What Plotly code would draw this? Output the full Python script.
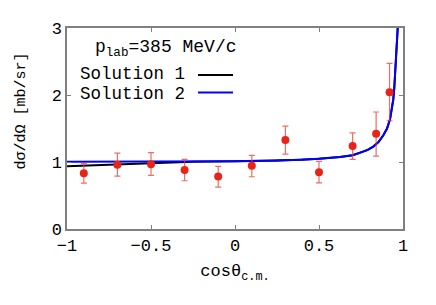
import plotly.graph_objects as go

# Data points (cos theta, dsigma/dOmega, error up, error down)
cos_data = [-0.90, -0.70, -0.50, -0.30, -0.10, 0.10, 0.30, 0.50, 0.70, 0.84, 0.92]
xs_data = [0.833, 0.958, 0.967, 0.880, 0.785, 0.944, 1.330, 0.847, 1.237, 1.420, 2.040]
err_up = [0.144, 0.173, 0.173, 0.160, 0.149, 0.156, 0.205, 0.163, 0.197, 0.326, 0.433]
err_dn = [0.149, 0.169, 0.167, 0.160, 0.159, 0.164, 0.213, 0.159, 0.198, 0.332, 0.424]

# Solution 2 (blue) curve
cos_sol2 = [-1.0, -0.75, -0.5, -0.25, 0.0, 0.25, 0.4, 0.5, 0.625, 0.70, 0.744, 0.79, 0.823, 0.855, 0.883, 0.905, 0.923, 0.935, 0.942, 0.948, 0.952, 0.957, 0.9625, 0.966, 0.969]
xs_sol2 = [1.005, 1.005, 1.005, 1.007, 1.010, 1.020, 1.035, 1.050, 1.074, 1.10, 1.136, 1.18, 1.23, 1.30, 1.40, 1.50, 1.64, 1.79, 1.93, 2.10, 2.27, 2.43, 2.60, 2.80, 3.02]

# Solution 1 (black) curve
cos_sol1 = [-1.0, -0.85, -0.75, -0.6, -0.5, -0.4, -0.25, 0.0, 0.25, 0.4, 0.5, 0.625, 0.70, 0.744, 0.79, 0.823, 0.855, 0.883, 0.905, 0.923, 0.935, 0.942, 0.948, 0.952, 0.957, 0.9625, 0.966, 0.969]
xs_sol1 = [0.935, 0.950, 0.962, 0.978, 0.988, 0.996, 1.003, 1.010, 1.020, 1.035, 1.050, 1.074, 1.10, 1.136, 1.18, 1.23, 1.30, 1.40, 1.50, 1.64, 1.79, 1.93, 2.10, 2.27, 2.43, 2.60, 2.80, 3.02]

x_ticks = [-1, -0.5, 0, 0.5, 1]
x_ticktext = ["\u22121", "\u22120.5", "0", "0.5", "1"]
y_ticks = [0, 1, 2, 3]

FONT = "Liberation Mono, Courier New, monospace"
OFF = 8  # page body margin
W, H = 436 - OFF, 305 - OFF
PL, PR, PT, PB = 67, 403, 22, 229  # plot area in page pixels
L, T = PL - OFF, PT - OFF
R = W - (PR - OFF)
B = H - (PB - OFF)

def px(xp):
    return (xp - PL) / (PR - PL)

def py(yp):
    return (PB - yp) / (PB - PT)

fig = go.Figure()
fig.add_trace(go.Scatter(x=cos_sol1, y=xs_sol1, mode="lines",
                         line=dict(color="black", width=2), showlegend=False))
fig.add_trace(go.Scatter(x=cos_sol2, y=xs_sol2, mode="lines",
                         line=dict(color="#0000ff", width=2), showlegend=False))
fig.add_trace(go.Scatter(x=cos_data, y=xs_data, mode="markers",
                         marker=dict(color="#e8231a", size=8),
                         error_y=dict(type="data", symmetric=False, array=err_up,
                                      arrayminus=err_dn, color="rgba(232,60,50,0.75)",
                                      thickness=1.2, width=3),
                         showlegend=False))

# title-like label and legend drawn as annotations/shapes
fig.add_annotation(xref="paper", yref="paper", x=px(239), y=py(43),
                   xanchor="right", yanchor="middle", showarrow=False,
                   text="p<sub>lab</sub>=385 MeV/c", font=dict(family=FONT, size=18, color="black"))
fig.add_annotation(xref="paper", yref="paper", x=px(187), y=py(69.5),
                   xanchor="right", yanchor="middle", showarrow=False,
                   text="Solution 1", font=dict(family=FONT, size=17.5, color="black"))
fig.add_annotation(xref="paper", yref="paper", x=px(187), y=py(89.5),
                   xanchor="right", yanchor="middle", showarrow=False,
                   text="Solution 2", font=dict(family=FONT, size=17.5, color="black"))
fig.add_shape(type="line", xref="paper", yref="paper", x0=px(198), x1=px(233),
              y0=py(70.5), y1=py(70.5), line=dict(color="black", width=2))
fig.add_shape(type="line", xref="paper", yref="paper", x0=px(198), x1=px(233),
              y0=py(88.5), y1=py(88.5), line=dict(color="#0000ff", width=2))

# y title as annotation
fig.add_annotation(xref="paper", yref="paper", x=px(22), y=py(108),
                   xanchor="center", yanchor="middle", showarrow=False, textangle=-90,
                   text="d\u03c3/d\u03a9 [mb/sr]", font=dict(family=FONT, size=15, color="black"))

axis_common = dict(showgrid=False, zeroline=False, showline=True, mirror="ticks",
                   linecolor="#808080", linewidth=1.5, ticks="inside", ticklen=4,
                   tickcolor="#808080", tickfont=dict(family=FONT, size=17, color="black"))

fig.update_xaxes(range=[-1, 1], tickvals=x_ticks, ticktext=x_ticktext,
                 title=dict(text="cos\u03b8<sub>c.m.</sub>", font=dict(family=FONT, size=17, color="black"),
                            standoff=9),
                 **axis_common)
fig.update_yaxes(range=[0, 3], tickvals=y_ticks, **axis_common)

fig.update_layout(width=W, height=H, margin=dict(l=L, r=R, t=T, b=B),
                  plot_bgcolor="white", paper_bgcolor="white",
                  font=dict(family=FONT, size=17, color="black"))

fig.write_html("out.html")
